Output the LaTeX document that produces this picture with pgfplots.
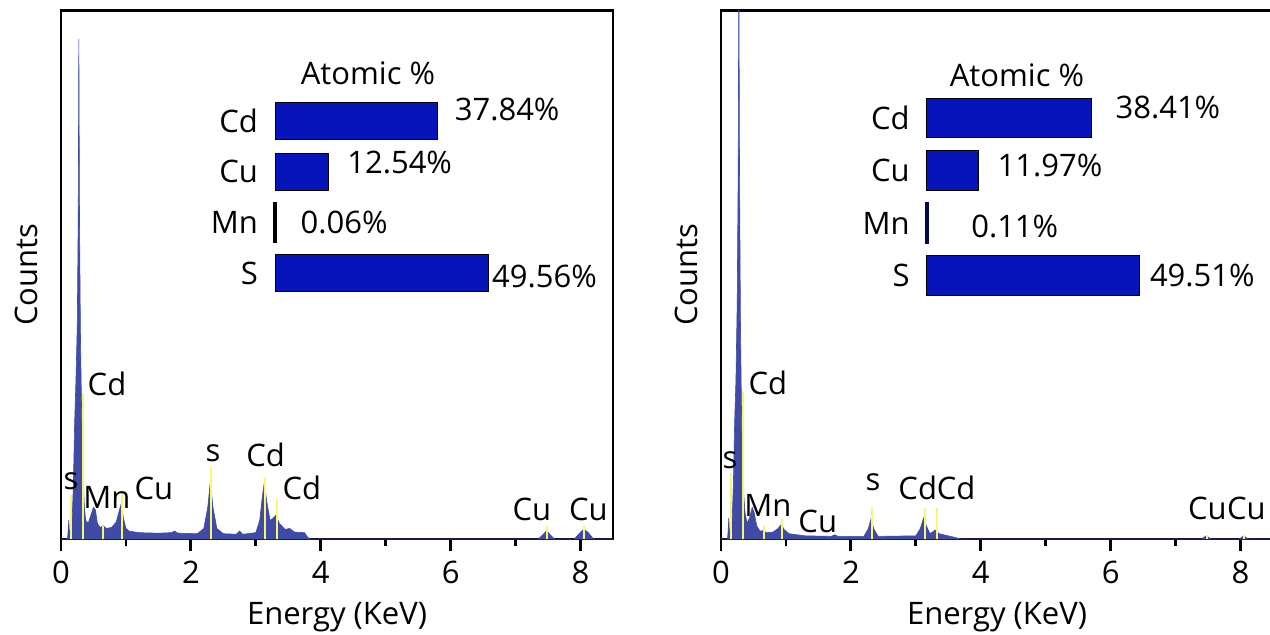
\documentclass[border=0pt]{standalone}
\usepackage{fontspec}
\setmainfont{Open Sans}
\usepackage{pgfplots}
\pgfplotsset{compat=1.18}
\definecolor{spec}{RGB}{63,75,165}
\definecolor{peak}{RGB}{250,245,110}
\definecolor{barblue}{RGB}{6,20,185}
\newcommand\fs{\fontsize{15.5}{18}\selectfont}
\tikzset{val/.style={anchor=west, inner sep=0pt, font=\fs}}
\pgfplotsset{
  eds/.style={scale only axis, width=276pt, height=264.25pt,
    xmin=0, xmax=8.5, ymin=0, ymax=100,
    axis line style={line width=1.4pt},
    xtick={0,2,4,6,8}, minor xtick={1,3,5,7}, ytick=\empty,
    tick align=outside, xtick pos=bottom,
    major tick length=6pt, minor tick length=3.5pt,
    tick style={line width=1.4pt, black},
    /pgf/number format/assume math mode=true,
    ticklabel style={font=\fs}, xticklabel style={yshift=-1.5pt},
    xlabel={Energy (KeV)}, ylabel={Counts}, label style={font=\fs},
    xlabel style={at={(axis description cs:0.5,-0.1476)}, anchor=center},
    ylabel style={at={(axis description cs:-0.0634,0.5)}, anchor=center},
    anchor=south west, clip=true},
  inset/.style={scale only axis, xbar, bar shift=0pt, xmin=0, xmax=50, ymin=-0.5, ymax=3.5,
    width=107.5pt, axis line style={draw=none}, xtick=\empty,
    ytick={0,1,2,3}, yticklabels={S,Mn,Cu,Cd},
    major tick length=0pt, tick style={draw=none},
    yticklabel style={font=\fs, inner sep=0pt, xshift=-8.35pt},
    title={Atomic \%}, title style={font=\fs, anchor=center},
    anchor=south west, clip=false}
}
\begin{document}
\begin{tikzpicture}
\useasboundingbox (0,0) rectangle (635pt,317pt);
% ---------------- left spectrum
\begin{axis}[eds, at={(30.5pt,47.5pt)}]
\addplot[fill=spec, draw=spec, line width=0.3pt] coordinates {
(0,0) (0.10,0) (0.11,1.5) (0.12,3.6) (0.13,1.0) (0.15,2) (0.17,3) (0.19,10) (0.21,22)
(0.23,30) (0.25,40) (0.265,60) (0.275,94.6) (0.285,60) (0.30,38) (0.32,22) (0.34,12)
(0.36,6) (0.38,3.5) (0.42,3) (0.46,4.5) (0.50,6) (0.53,5.5) (0.56,3) (0.60,2.2)
(0.65,2.5) (0.70,2) (0.78,2.2) (0.85,3.2) (0.90,5.5) (0.93,6.8) (0.96,4) (1.00,2)
(1.05,1.5) (1.2,1.2) (1.5,1.1) (1.7,1.2) (1.75,1.5) (1.8,1.1) (2.1,1.0) (2.2,2)
(2.26,6) (2.30,10.8) (2.34,6) (2.40,2) (2.5,1.0) (2.7,0.9) (2.75,1.5) (2.8,0.9)
(3.0,1.2) (3.06,3.5) (3.10,8) (3.13,10.6) (3.17,7) (3.22,3.5) (3.27,4) (3.31,4.5)
(3.36,3) (3.45,1.8) (3.52,2) (3.6,1.3) (3.75,1.2) (3.8,0.3) (3.85,0)
(7.35,0) (7.42,0.8) (7.48,1.6) (7.54,0.7) (7.60,0) (7.90,0) (7.98,1) (8.05,1.9)
(8.12,1.2) (8.2,0) (8.5,0)} \closedcycle;
\addplot[ycomb, peak, line width=1pt, no marks] coordinates {
(0.15,8.3) (0.34,27.6) (0.64,2.5) (0.94,8.7) (2.31,13.6) (3.14,11.6) (3.32,7.6)
(7.48,2.5) (8.05,2.6)};
\node[font=\fs] at (axis cs:0.154,10.97) {s};
\node[font=\fs] at (axis cs:0.708,29.3) {Cd};
\node[font=\fs] at (axis cs:0.708,7.95) {Mn};
\node[font=\fs] at (axis cs:1.43,9.65) {Cu};
\node[font=\fs] at (axis cs:2.34,16.3) {s};
\node[font=\fs] at (axis cs:3.15,15.9) {Cd};
\node[font=\fs] at (axis cs:3.71,9.65) {Cd};
\node[font=\fs] at (axis cs:7.25,5.68) {Cu};
\node[font=\fs] at (axis cs:8.12,5.68) {Cu};
\end{axis}
% ---------------- right spectrum
\begin{axis}[eds, at={(360.5pt,47.5pt)}]
\addplot[fill=spec, draw=spec, line width=0.3pt] coordinates {
(0,0) (0.10,0) (0.11,1.5) (0.12,4) (0.13,1) (0.15,2) (0.17,3) (0.19,10) (0.21,22)
(0.23,30) (0.25,45) (0.265,70) (0.275,110) (0.285,70) (0.30,40) (0.32,20) (0.34,10)
(0.37,5) (0.40,3) (0.44,4) (0.48,6) (0.51,5) (0.55,2.5) (0.60,1.5) (0.65,1.6)
(0.70,1.2) (0.80,1.3) (0.88,2) (0.93,2.8) (0.97,1.8) (1.05,1) (1.3,0.6) (1.7,0.5)
(1.75,0.8) (1.8,0.5) (2.2,0.5) (2.27,2) (2.31,3.8) (2.35,2) (2.42,0.5) (3.0,0.6)
(3.07,2) (3.12,4) (3.16,2.5) (3.22,1) (3.30,1.7) (3.36,1) (3.5,0.6) (3.6,0.3) (3.7,0)
(7.40,0) (7.47,0.6) (7.55,0) (7.98,0) (8.05,0.6) (8.12,0) (8.5,0)} \closedcycle;
\addplot[ycomb, peak, line width=1pt, no marks] coordinates {
(0.15,12.5) (0.34,27.8) (0.66,2.5) (0.94,3.8) (2.32,5.9) (3.14,5.9) (3.33,5.9)
(7.48,0.8) (8.05,0.8)};
\node[font=\fs] at (axis cs:0.138,14.95) {s};
\node[font=\fs] at (axis cs:0.723,29.5) {Cd};
\node[font=\fs] at (axis cs:0.723,6.43) {Mn};
\node[font=\fs] at (axis cs:1.49,3.4) {Cu};
\node[font=\fs] at (axis cs:2.34,10.8) {s};
\node[font=\fs] at (axis cs:3.03,9.65) {Cd};
\node[font=\fs] at (axis cs:3.62,9.65) {Cd};
\node[font=\fs] at (axis cs:7.49,5.87) {Cu};
\node[font=\fs] at (axis cs:8.09,5.87) {Cu};
\end{axis}
% ---------------- left inset
\begin{axis}[inset, at={(137.5pt,167.85pt)}, height=101.2pt, bar width=18.75pt,
  title style={at={(axis description cs:0.4326,1.0537)}}]
\addplot[fill=barblue, draw=black, line width=0.5pt] coordinates {(49.56,0) (12.54,2) (37.84,3)};
\addplot[fill=black, draw=black, line width=1.6pt] coordinates {(0.06,1)};
\node[val, xshift=8.35pt, yshift=5.65pt] at (axis cs:37.84,3) {37.84\%};
\node[val, xshift=9pt, yshift=4.5pt] at (axis cs:12.54,2) {12.54\%};
\node[val, xshift=12.5pt] at (axis cs:0.06,1) {0.06\%};
\node[val, xshift=1.85pt, yshift=-1.5pt] at (axis cs:49.56,0) {49.56\%};
\end{axis}
% ---------------- right inset
\begin{axis}[inset, at={(463.35pt,166.1pt)}, height=105pt, bar width=19.75pt,
  title style={at={(axis description cs:0.42,1.0229)}}]
\addplot[fill=barblue, draw=black, line width=0.5pt] coordinates {(49.51,0) (11.97,2) (38.41,3)};
\addplot[fill=barblue!60!black, draw=barblue!40!black, line width=1.4pt] coordinates {(0.11,1)};
\node[val, xshift=11.65pt, yshift=5.5pt] at (axis cs:38.41,3) {38.41\%};
\node[val, xshift=9.5pt, yshift=2.75pt] at (axis cs:11.97,2) {11.97\%};
\node[val, xshift=21.85pt, yshift=-1.75pt] at (axis cs:0.11,1) {0.11\%};
\node[val, xshift=5pt] at (axis cs:49.51,0) {49.51\%};
\end{axis}
\end{tikzpicture}
\end{document}
